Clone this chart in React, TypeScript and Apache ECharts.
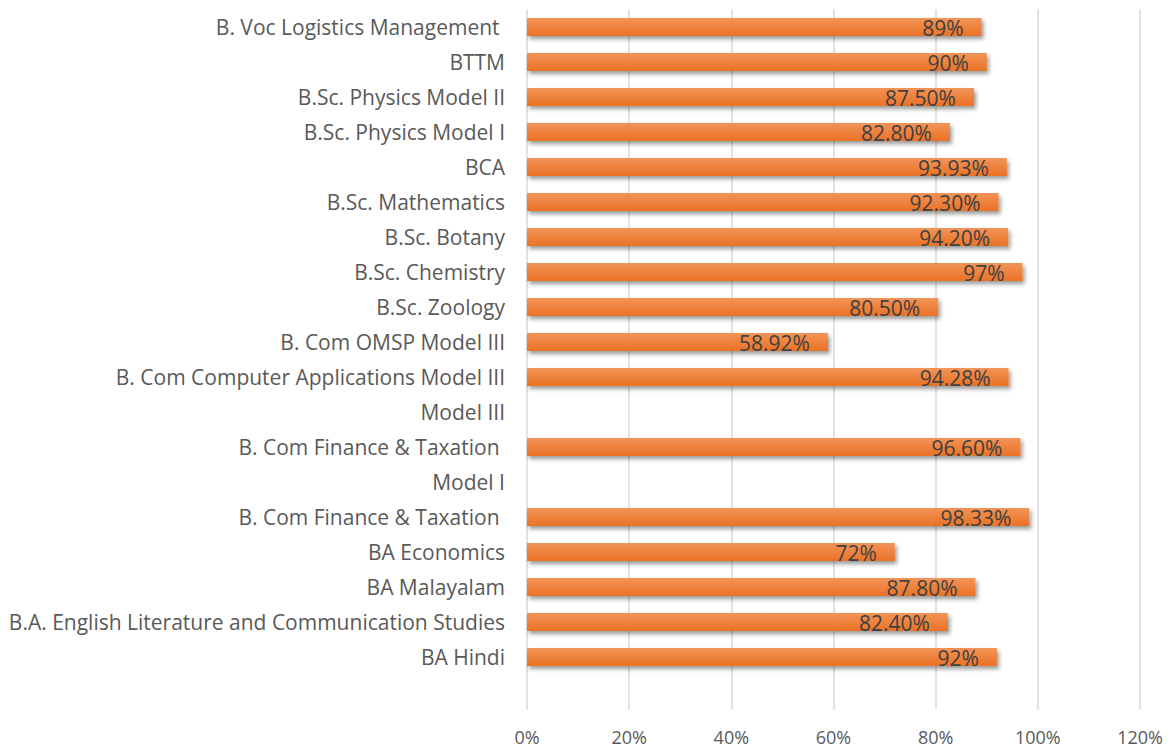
import React, { useEffect, useRef } from "react";
import * as echarts from "echarts";

const categories = [
  "",
  "BA Hindi",
  "B.A. English Literature and Communication Studies",
  "BA Malayalam",
  "BA Economics",
  "B. Com Finance & Taxation ",
  "Model I",
  "B. Com Finance & Taxation ",
  "Model III",
  "B. Com Computer Applications Model III",
  "B. Com OMSP Model III",
  "B.Sc. Zoology",
  "B.Sc. Chemistry",
  "B.Sc. Botany",
  "B.Sc. Mathematics",
  "BCA",
  "B.Sc. Physics Model I",
  "B.Sc. Physics Model II",
  "BTTM",
  "B. Voc Logistics Management ",
];

const values: (number | null)[] = [
  null, 92, 82.4, 87.8, 72, 98.33, null, 96.6, null, 94.28, 58.92, 80.5, 97, 94.2, 92.3, 93.93, 82.8, 87.5, 90, 89,
];

const valueLabels = [
  "", "92%", "82.40%", "87.80%", "72%", "98.33%", "", "96.60%", "", "94.28%", "58.92%", "80.50%", "97%", "94.20%",
  "92.30%", "93.93%", "82.80%", "87.50%", "90%", "89%",
];

const FONT = "Open Sans";

export default function App() {
  const ref = useRef<HTMLDivElement>(null);
  useEffect(() => {
    const chart = echarts.init(ref.current!, null, { renderer: "svg" });
    chart.setOption({
      animation: false,
      backgroundColor: "#ffffff",
      grid: { left: 527, right: 32, top: 9.5, bottom: 39.5, containLabel: false },
      xAxis: {
        type: "value",
        min: 0,
        max: 120,
        interval: 20,
        axisLine: { show: false },
        axisTick: { show: false },
        splitLine: { show: true, lineStyle: { color: "#d9d9d9", width: 1.5 } },
        axisLabel: {
          formatter: "{value}%",
          color: "#595959",
          fontFamily: FONT,
          fontSize: 18,
          lineHeight: 18,
          margin: 18,
        },
      },
      yAxis: {
        type: "category",
        data: categories,
        axisLine: { show: false },
        axisTick: { show: false },
        splitLine: { show: false },
        axisLabel: {
          color: "#595959",
          fontFamily: FONT,
          fontSize: 21,
          margin: 22,
          interval: 0,
        },
      },
      series: [
        {
          type: "bar",
          data: values,
          barWidth: 18,
          itemStyle: {
            color: new echarts.graphic.LinearGradient(0, 0, 0, 1, [
              { offset: 0, color: "#F29458" },
              { offset: 1, color: "#EA7226" },
            ]),
            shadowColor: "rgba(0,0,0,0.4)",
            shadowBlur: 4,
            shadowOffsetX: 2,
            shadowOffsetY: 3,
          },
          label: {
            show: true,
            position: "insideRight",
            distance: 18,
            offset: [0, 1],
            color: "#404040",
            fontFamily: FONT,
            fontSize: 21,
            formatter: (p: any) => valueLabels[p.dataIndex],
          },
        },
      ],
    });
    return () => chart.dispose();
  }, []);
  return (
    <div
      ref={ref}
      style={{ position: "absolute", left: 0, top: 0, width: 1172, height: 749 }}
    />
  );
}
